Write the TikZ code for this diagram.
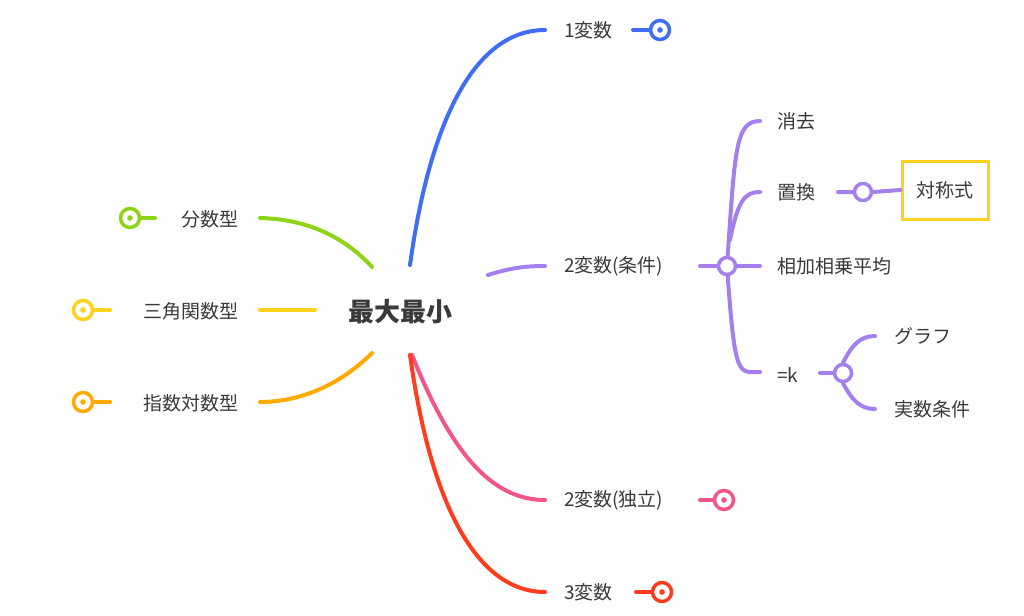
\documentclass[tikz,border=0pt]{standalone}
\usepackage{fontspec}
\setmainfont{Noto Sans CJK JP}
\usetikzlibrary{positioning}
\definecolor{cblue}{HTML}{3F6EF4}
\definecolor{cpurple}{HTML}{A57FEE}
\definecolor{cpink}{HTML}{F2558A}
\definecolor{cred}{HTML}{FF3D1E}
\definecolor{cgreen}{HTML}{8DD514}
\definecolor{cyellow}{HTML}{FFD21E}
\definecolor{corange}{HTML}{FFAA00}
\definecolor{ctext}{HTML}{3A3A3A}
\begin{document}
\begin{tikzpicture}[
    x=1pt, y=-1pt,
    line width=4pt, line cap=round,
    every node/.style={text=ctext, font=\fontsize{19}{21}\selectfont},
    topic/.style={inner sep=0pt},
    knob/.style={circle, draw, fill=white, line width=3.5pt, minimum size=17pt, inner sep=0pt},
    dotknob/.style={knob, minimum size=19pt, path picture={\fill[#1] (path picture bounding box.center) circle (2.8pt);}},
    ]
    \useasboundingbox (0,0) rectangle (1024,615);

    % centre
    \node (root) at (400,312) {\fontsize{26}{28}\selectfont\bfseries 最大最小};

    % right side
    \node[topic, anchor=west] (one) at (562,30) {1変数};
    \node[topic, anchor=west] (cond) at (562,266) {2変数(条件)};
    \node[topic, anchor=west] (indep) at (562,500) {2変数(独立)};
    \node[topic, anchor=west] (three) at (562,592) {3変数};

    \draw[cblue] (410,265) .. controls (430,120) and (475,30) .. (545,30);
    \draw[cpurple] (488,275) .. controls (510,268) and (525,266) .. (545,266);
    \draw[cpink] (412,355) .. controls (450,450) and (490,500) .. (545,500);
    \draw[cred] (410,355) .. controls (430,500) and (475,592) .. (545,592);

    \node[dotknob=cblue, draw=cblue] (oneK) at (660,30) {};
    \draw[cblue] (633,30) -- (oneK.west);
    \node[dotknob=cpink, draw=cpink] (indepK) at (724,500) {};
    \draw[cpink] (700,500) -- (indepK.west);
    \node[dotknob=cred, draw=cred] (threeK) at (662,592) {};
    \draw[cred] (636,592) -- (threeK.west);

    % 2変数(条件) subtree
    \node[topic, anchor=west] (elim) at (775,121) {消去};
    \node[topic, anchor=west] (subst) at (775,192) {置換};
    \node[topic, anchor=west] (amgm) at (775,266) {相加相乗平均};
    \node[topic, anchor=west] (eqk) at (775,375) {=k};
    \node[draw=cyellow, line width=3pt, minimum width=86pt, minimum height=58pt] (sym) at (945,190) {対称式};
    \node[topic, anchor=west] (graph) at (892,336) {グラフ};
    \node[topic, anchor=west] (real) at (892,409) {実数条件};

    \coordinate (condK) at (727,266);
    \draw[cpurple] (700,266) -- (760,266);
    \draw[cpurple] (727,266) .. controls (735,150) and (735,121) .. (760,121);
    \draw[cpurple] (730,240) .. controls (738,200) and (745,192) .. (760,192);
    \draw[cpurple] (727,266) .. controls (735,380) and (738,372) .. (760,372);
    \node[knob, draw=cpurple] at (condK) {};

    \node[knob, draw=cpurple] (substK) at (863,192) {};
    \draw[cpurple] (838,192) -- (substK.west) (substK.east) -- (sym.west);

    \node[knob, draw=cpurple] (eqkK) at (843,373) {};
    \draw[cpurple] (820,373) -- (eqkK.west);
    \draw[cpurple] (eqkK.north) .. controls (852,345) and (860,336) .. (875,336);
    \draw[cpurple] (eqkK.south) .. controls (852,400) and (860,409) .. (875,409);

    % left side
    \node[topic, anchor=east] (frac) at (240,219) {分数型};
    \node[topic, anchor=east] (trig) at (240,311) {三角関数型};
    \node[topic, anchor=east] (expl) at (240,403) {指数対数型};

    \draw[cgreen] (372,267) .. controls (340,232) and (300,219) .. (260,218);
    \draw[cyellow] (260,310) -- (315,310);
    \draw[corange] (372,353) .. controls (340,385) and (300,402) .. (260,402);

    \node[dotknob=cgreen, draw=cgreen] (fracK) at (130,218) {};
    \draw[cgreen] (fracK.east) -- (155,218);
    \node[dotknob=cyellow, draw=cyellow] (trigK) at (83,310) {};
    \draw[cyellow] (trigK.east) -- (110,310);
    \node[dotknob=corange, draw=corange] (explK) at (83,402) {};
    \draw[corange] (explK.east) -- (110,402);
\end{tikzpicture}
\end{document}
